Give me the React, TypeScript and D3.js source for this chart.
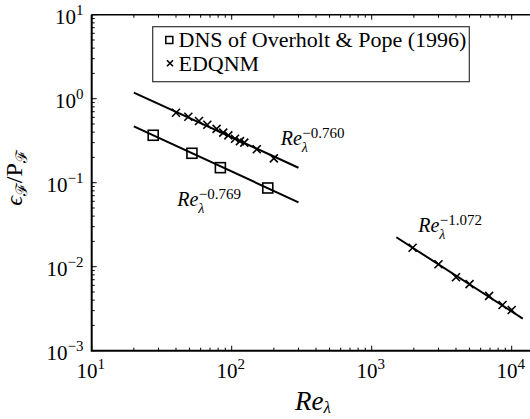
import React from "react";
import * as d3 from "d3";

// ---- data ----
const dnsRe = [27.5, 52, 83, 181];
const dnsVal = [0.367, 0.224, 0.151, 0.0865];

const edqnmLowRe = [40, 49, 58.4, 67, 78, 87, 94.6, 105.6, 114.6, 123, 151, 200];
const edqnmLowVal = [0.681, 0.61, 0.543, 0.49, 0.437, 0.394, 0.366, 0.334, 0.313, 0.3, 0.25, 0.195];

const edqnmHighRe = [1960, 3000, 4000, 5000, 6900, 8600, 10000];
const edqnmHighVal = [0.0168, 0.0107, 0.0075, 0.0062, 0.0045, 0.0035, 0.00305];

const fitExponents = [-0.769, -0.76, -1.072];
const fitCoefs = [4.69, 11.5, 56.9];
const fitFrom = [20, 20, 1500];
const fitTo = [300, 300, 12000];
const fitLabels = ["−0.769", "−0.760", "−1.072"];

const xMajor = [10, 100, 1000, 10000];
const xMajorExp = ["1", "2", "3", "4"];
const yMajor = [1e-3, 1e-2, 1e-1, 1, 10];
const yMajorExp = ["−3", "−2", "−1", "0", "1"];

const legendLabels = ["DNS of Overholt & Pope (1996)", "EDQNM"];

const W = 530;
const H = 419;
const L = 91.7;
const T = 14.7;
const B = 350.7;
const R = 546.7;

const FONT = '"Liberation Serif", "Times New Roman", Times, serif';

export default function App() {
  const x = d3.scaleLog().domain([10, Math.pow(10, 4.25)]).range([L, R]);
  const y = d3.scaleLog().domain([1e-3, 10]).range([B, T]);

  const xMinor: number[] = [];
  for (let e = 1; e <= 4; e++) for (let k = 2; k <= 9; k++) xMinor.push(k * Math.pow(10, e));
  const yMinor: number[] = [];
  for (let e = -3; e <= 0; e++) for (let k = 2; k <= 9; k++) yMinor.push(k * Math.pow(10, e));

  const line = d3
    .line<[number, number]>()
    .x((d) => x(d[0]))
    .y((d) => y(d[1]));

  const fits = fitExponents.map((p, i) => {
    const pts: [number, number][] = [
      [fitFrom[i], fitCoefs[i] * Math.pow(fitFrom[i], p)],
      [fitTo[i], fitCoefs[i] * Math.pow(fitTo[i], p)],
    ];
    return line(pts) as string;
  });

  const cross = (cx: number, cy: number, s: number, key: string) => (
    <path
      key={key}
      d={`M${cx - s},${cy - s}L${cx + s},${cy + s}M${cx - s},${cy + s}L${cx + s},${cy - s}`}
      stroke="#000"
      strokeWidth={1.6}
      fill="none"
    />
  );

  const annPos = [
    { x: 177.3, y: 206 },
    { x: 280.7, y: 145 },
    { x: 418.3, y: 231.7 },
  ];

  return (
    <svg
      width={W}
      height={H}
      style={{ position: "absolute", left: 0, top: 0, overflow: "hidden", background: "#fff", fontFamily: FONT }}
    >
      <style>{`text, tspan { font-family: "Liberation Serif", "Times New Roman", Times, serif; }`}</style>
      <rect x={0} y={0} width={W} height={H} fill="#fff" />

      {/* fit lines */}
      {fits.map((d, i) => (
        <path key={"fit" + i} d={d} stroke="#000" strokeWidth={2} fill="none" />
      ))}

      {/* DNS squares */}
      {dnsRe.map((r, i) => (
        <rect
          key={"sq" + i}
          x={x(r) - 5}
          y={y(dnsVal[i]) - 5}
          width={10}
          height={10}
          fill="none"
          stroke="#000"
          strokeWidth={1.6}
        />
      ))}

      {/* EDQNM crosses */}
      {edqnmLowRe.map((r, i) => cross(x(r), y(edqnmLowVal[i]), 4, "cl" + i))}
      {edqnmHighRe.map((r, i) => cross(x(r), y(edqnmHighVal[i]), 4, "ch" + i))}

      {/* axes frame */}
      <path d={`M${L},${T}V${B}H${R}`} stroke="#000" strokeWidth={2} fill="none" />
      <path d={`M${L},${T}H${R}V${B}`} stroke="#000" strokeWidth={1.5} fill="none" />

      {/* x ticks */}
      {xMajor.map((v) => (
        <g key={"xm" + v}>
          <line x1={x(v)} x2={x(v)} y1={B} y2={B - 5} stroke="#000" strokeWidth={1} />
          <line x1={x(v)} x2={x(v)} y1={T} y2={T + 5} stroke="#000" strokeWidth={1} />
        </g>
      ))}
      {xMinor.map((v) => (
        <g key={"xn" + v}>
          <line x1={x(v)} x2={x(v)} y1={B} y2={B - 3} stroke="#000" strokeWidth={1} />
          <line x1={x(v)} x2={x(v)} y1={T} y2={T + 3} stroke="#000" strokeWidth={1} />
        </g>
      ))}
      {/* y ticks */}
      {yMajor.map((v) => (
        <line key={"ym" + v} x1={L} x2={L + 5} y1={y(v)} y2={y(v)} stroke="#000" strokeWidth={1} />
      ))}
      {yMinor.map((v) => (
        <line key={"yn" + v} x1={L} x2={L + 3} y1={y(v)} y2={y(v)} stroke="#000" strokeWidth={1} />
      ))}

      {/* x tick labels */}
      {xMajor.map((v, i) => (
        <text key={"xl" + v} x={x(v) - 1} y={378} fontSize={21} textAnchor="middle" fill="#000">
          10
          <tspan fontSize={15} dy={-9}>
            {xMajorExp[i]}
          </tspan>
        </text>
      ))}
      {/* y tick labels */}
      {yMajor.map((v, i) => (
        <text key={"yl" + v} x={83.5} y={y(v) + 9} fontSize={21} textAnchor="end" fill="#000">
          10
          <tspan fontSize={15} dy={-9}>
            {yMajorExp[i]}
          </tspan>
        </text>
      ))}

      {/* x axis label */}
      <text x={295} y={410} fontSize={27} fontStyle="italic" fill="#000">
        Re
        <tspan fontSize={17} dy={3}>
          λ
        </tspan>
      </text>

      {/* y axis label */}
      <text
        transform="translate(22,178) rotate(-90)"
        textAnchor="middle"
        fontSize={24}
        fill="#000"
      >
        <tspan fontStyle="italic">ϵ</tspan>
        <tspan fontSize={16} dy={5}>
          ℱ
        </tspan>
        <tspan dy={-5}>/P</tspan>
        <tspan fontSize={16} dy={5}>
          ℱ
        </tspan>
      </text>

      {/* fit annotations */}
      {annPos.map((p, i) => (
        <g key={"ann" + i}>
          <text x={p.x} y={p.y} fontSize={20} fontStyle="italic" fill="#000">
            Re
          </text>
          <text x={p.x + 21} y={p.y + 7} fontSize={14} fontStyle="italic" fill="#000">
            λ
          </text>
          <text x={p.x + 21.5} y={p.y - 7} fontSize={15} fill="#000">
            {fitLabels[i]}
          </text>
        </g>
      ))}

      {/* legend */}
      <rect x={152.7} y={26.7} width={316.6} height={55} fill="#fff" stroke="#333" strokeWidth={1.2} />
      <rect x={165.8} y={36.5} width={7} height={7} fill="none" stroke="#000" strokeWidth={1.5} />
      {cross(170, 63.3, 3, "legx")}
      <text x={178.5} y={46.7} fontSize={22} fill="#000">
        {legendLabels[0]}
      </text>
      <text x={178.5} y={70.7} fontSize={22} fill="#000">
        {legendLabels[1]}
      </text>
    </svg>
  );
}
